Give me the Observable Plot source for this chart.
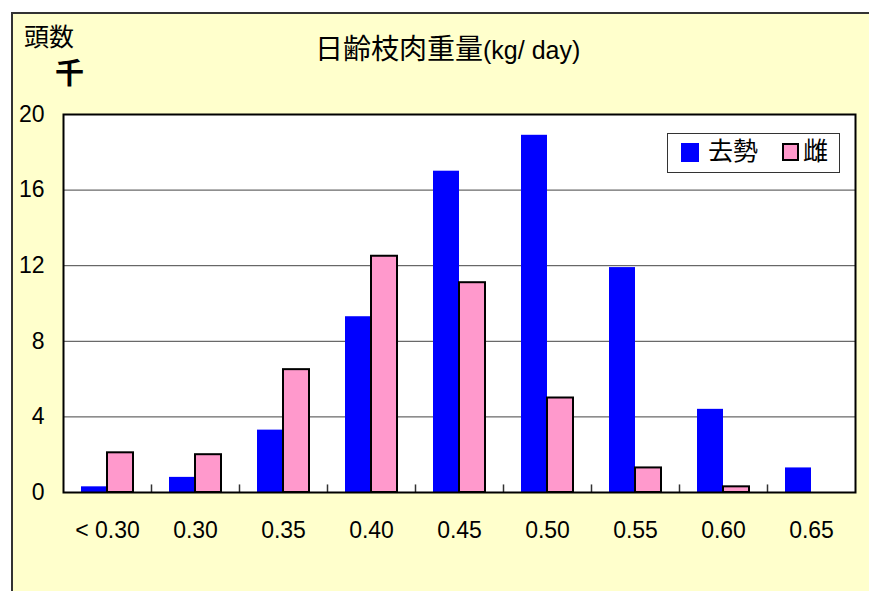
<!DOCTYPE html>
<html>
<head>
<meta charset="utf-8">
<script src="https://cdn.jsdelivr.net/npm/d3@7"></script>
<script src="https://cdn.jsdelivr.net/npm/@observablehq/plot@0.6"></script>
<style>
  html, body { margin: 0; padding: 0; background: #fff; overflow: hidden; }
  #wrap { position: relative; width: 869px; height: 591px; }
  #panel { position: absolute; left: 11px; top: 12px; width: 900px; height: 640px;
           background: #FFFFCC; border: 2px solid #333; box-sizing: border-box; }
  #chart { position: absolute; left: 0; top: 0; }
  .lbl { position: absolute; font-family: "Liberation Sans", "Noto Sans CJK JP", sans-serif; color: #000; white-space: nowrap; line-height: 1; }
  .cjk { font-family: "Noto Sans CJK JP", sans-serif; }
  .lat { font-family: "Liberation Sans", sans-serif; }
  #legend { position: absolute; left: 667px; top: 133px; width: 173px; height: 40px; box-sizing: border-box;
            border: 1.5px solid #333; background: #fff; font-family: "Noto Sans CJK JP", sans-serif; font-size: 25px; }
  .sw { position: absolute; box-sizing: border-box; }
  .lt { position: absolute; top: 3px; line-height: 1; }
</style>
</head>
<body>
<div id="wrap">
  <div id="panel"></div>
  <div id="chart"></div>
</div>
<script>
// Data
const categories = ["< 0.30", "0.30", "0.35", "0.40", "0.45", "0.50", "0.55", "0.60", "0.65"];
const castrated  = [0.3, 0.8, 3.3, 9.3, 17.0, 18.9, 11.9, 4.4, 1.3];   // 去勢
const heifer     = [2.1, 2.0, 6.5, 12.5, 11.1, 5.0, 1.3, 0.3, 0];      // 雌
const yTicks     = [0, 4, 8, 12, 16, 20];
const seriesNames = ["去勢", "雌"];
const seriesColors = ["#0000FF", "#FF99CC"];
const titleCJK = "日齢枝肉重量";
const titleUnit = "(kg/ day)";
const yUnitTop = "頭数";
const yUnitBottom = "千";

const rows = categories.map((c, i) => ({cat: c, castrated: castrated[i], heifer: heifer[i]}));

const chart = Plot.plot({
  width: 869,
  height: 591,
  marginLeft: 63,
  marginRight: 14,
  marginTop: 114,
  marginBottom: 99,
  style: {background: "transparent", fontFamily: "'Liberation Sans', Arial, sans-serif", fontSize: "23px", color: "#000", overflow: "visible"},
  x: {domain: categories, paddingInner: 0.705, paddingOuter: 0.3525, label: null},
  y: {domain: [0, 20], ticks: yTicks, label: null},
  marks: [
    Plot.frame({fill: "white"}),
    Plot.ruleY(yTicks.slice(1, -1), {stroke: "#444", strokeWidth: 1}),
    Plot.barY(rows, {x: "cat", y: "castrated", fill: seriesColors[0], dx: -13}),
    Plot.barY(rows, {x: "cat", y: "heifer", fill: seriesColors[1], stroke: "black", strokeWidth: 2, dx: 13, filter: d => d.heifer > 0}),
    Plot.ruleX(categories.slice(0, -1), {x: d => d, dx: 44, y1: 0, y2: 0.4, stroke: "#333", strokeWidth: 1.5}),
    Plot.axisY({ticks: yTicks, tickSize: 0, tickPadding: 19, label: null, fontSize: 23}),
    Plot.axisX({tickSize: 0, tickPadding: 29, label: null, fontSize: 23}),
    Plot.frame({stroke: "black", strokeWidth: 2})
  ]
});
document.getElementById("chart").appendChild(chart);

const wrap = document.getElementById("wrap");
function addLabel(html, css) {
  const d = document.createElement("div");
  d.className = "lbl";
  d.innerHTML = html;
  Object.assign(d.style, css);
  wrap.appendChild(d);
  return d;
}
addLabel(`<span class="cjk" style="font-size:28px">${titleCJK}</span><span class="lat" style="font-size:25px">${titleUnit}</span>`,
  {left: "315px", top: "33px"});
addLabel(`<span class="cjk">${yUnitTop}</span>`, {left: "24px", top: "23px", fontSize: "25px"});
addLabel(`<span class="cjk">${yUnitBottom}</span>`, {left: "55px", top: "57px", fontSize: "29px", fontWeight: "bold"});

// Legend
const lg = document.createElement("div");
lg.id = "legend";
const swPos = [{left: 13, width: 18, height: 19, top: 9}, {left: 114, width: 17, height: 18, top: 9}];
const txtPos = [40, 135];
seriesNames.forEach((name, i) => {
  const s = document.createElement("div");
  s.className = "sw";
  Object.assign(s.style, {left: swPos[i].left + "px", top: swPos[i].top + "px", width: swPos[i].width + "px", height: swPos[i].height + "px",
    background: seriesColors[i], border: i === 1 ? "2px solid #000" : "none"});
  lg.appendChild(s);
  const t = document.createElement("div");
  t.className = "lt";
  t.style.left = txtPos[i] + "px";
  t.textContent = name;
  lg.appendChild(t);
});
wrap.appendChild(lg);
</script>
</body>
</html>
